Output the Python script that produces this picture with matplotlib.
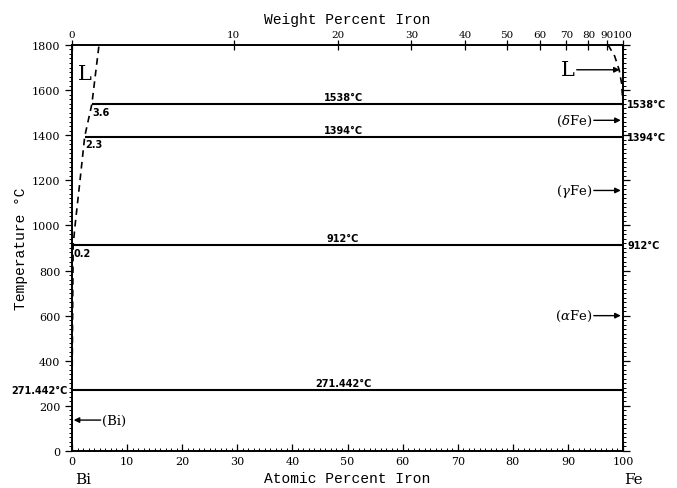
import numpy as np
import matplotlib
matplotlib.use("Agg")
import matplotlib.pyplot as plt
from matplotlib.ticker import MultipleLocator

# invariant lines (at.% Fe start, temperature)
iso_temps = [1538, 1394, 912, 271.442]
iso_start = [3.6, 2.3, 0.2, 0.0]
iso_texts = ["1538°C", "1394°C", "912°C", "271.442°C"]
start_texts = ["3.6", "2.3", "0.2", ""]
right_texts = ["1538°C", "1394°C", "912°C", ""]

# liquidus (dashed) on both sides
liq_left_x = [0.0, 0.2, 0.55, 1.45, 2.3, 3.6, 4.25, 4.9]
liq_left_t = [271.442, 912, 1000, 1200, 1394, 1538, 1670, 1800]
liq_right_x = [97.3, 98.5, 99.3, 99.75, 100.0]
liq_right_t = [1800, 1750, 1690, 1630, 1538]

# pure-Fe phase arrows on the right, Bi on the left
fe_phases = [r"($\delta$Fe)", r"($\gamma$Fe)", r"($\alpha$Fe)"]
fe_phase_t = [1466, 1155, 600]

wt_ticks = [0, 10, 20, 30, 40, 50, 60, 70, 80, 90, 100]

M_FE, M_BI = 55.845, 208.98


def wt_to_at(w):
    w = np.asarray(w, dtype=float)
    nfe = w / M_FE
    nbi = (100 - w) / M_BI
    return 100 * nfe / (nfe + nbi)


plt.rcParams['mathtext.fontset'] = 'dejavuserif'
serif = 'DejaVu Serif'
mono = 'Liberation Mono'

fig = plt.figure(figsize=(6.77, 4.89), dpi=100)
ax = fig.add_axes([0.1064, 0.0757, 0.8138, 0.8303])
ax.set_xlim(0, 100)
ax.set_ylim(0, 1800)

for sp in ax.spines.values():
    sp.set_linewidth(1.2)

ax.xaxis.set_major_locator(MultipleLocator(10))
ax.xaxis.set_minor_locator(MultipleLocator(1))
ax.yaxis.set_major_locator(MultipleLocator(200))
ax.yaxis.set_minor_locator(MultipleLocator(20))
ax.tick_params(axis='x', which='both', direction='in', bottom=True, top=True)
ax.tick_params(axis='x', which='major', top=False)
ax.tick_params(axis='y', which='both', direction='out', left=True, right=True)
ax.tick_params(which='major', length=5, width=0.9, labelsize=8)
ax.tick_params(which='minor', length=2.5, width=0.7)
for lab in ax.get_xticklabels() + ax.get_yticklabels():
    lab.set_fontfamily(serif)

# top axis in weight percent
axt = ax.twiny()
axt.set_xlim(0, 100)
axt.set_xticks(wt_to_at(wt_ticks))
axt.set_xticklabels([str(w) for w in wt_ticks], fontfamily=serif, fontsize=7.5)
axt.tick_params(axis='x', which='major', direction='inout', length=7,
                width=0.9, pad=1)
for sp in axt.spines.values():
    sp.set_linewidth(1.2)

# invariant lines and labels
for t, x0, txt, st, rt in zip(iso_temps, iso_start, iso_texts, start_texts, right_texts):
    ax.plot([x0, 100], [t, t], color='black', lw=1.5, solid_capstyle='butt')
    ax.text(49.2, t + 8, txt, ha='center', va='bottom', fontsize=7,
            fontweight='bold', family='DejaVu Sans')
    if st:
        ax.text(x0 + 0.1, t - 12, st, ha='left', va='top', fontsize=7,
                fontweight='bold', family='DejaVu Sans')
    if rt:
        ax.text(100.8, t, rt, ha='left', va='center', fontsize=7,
                fontweight='bold', family='DejaVu Sans', clip_on=False)

ax.text(-0.8, 271.442, "271.442°C", ha='right', va='center', fontsize=7,
        fontweight='bold', family='DejaVu Sans', clip_on=False)

# liquidus
ax.plot(liq_left_x, liq_left_t, color='black', lw=1.2, ls=(0, (4, 3)))
ax.plot(liq_right_x, liq_right_t, color='black', lw=1.2, ls=(0, (4, 3)))

# phase labels
ax.text(1.0, 1675, "L", fontsize=15, family=serif, ha='left', va='center')
ax.text(90.0, 1690, "L", fontsize=15, family=serif, ha='center', va='center')
ax.annotate("", xy=(99.4, 1690), xytext=(91.6, 1690),
            arrowprops=dict(arrowstyle='-|>', color='black', lw=1.0,
                            mutation_scale=8, shrinkA=0, shrinkB=0))

for name, t in zip(fe_phases, fe_phase_t):
    ax.text(94.5, t, name, fontsize=9.5, family=serif, ha='right', va='center')
    ax.annotate("", xy=(99.6, t), xytext=(94.7, t),
                arrowprops=dict(arrowstyle='-|>', color='black', lw=1.0,
                                mutation_scale=8, shrinkA=0, shrinkB=0))

ax.text(5.4, 137, "(Bi)", fontsize=9.5, family=serif, ha='left', va='center')
ax.annotate("", xy=(0.3, 137), xytext=(5.2, 137),
            arrowprops=dict(arrowstyle='-|>', color='black', lw=1.0,
                            mutation_scale=8, shrinkA=0, shrinkB=0))

# axis titles
ax.set_xlabel("Atomic Percent Iron", fontsize=10.5, family=mono, labelpad=4)
axt.set_xlabel("Weight Percent Iron", fontsize=10.5, family=mono, labelpad=5)
ax.set_ylabel("Temperature °C", fontsize=10.5, family=mono)
ax.yaxis.set_label_coords(-0.08, 0.5)
fig.text(83 / 677, 1 - 480 / 489, "Bi", fontsize=11, family=serif,
         ha='center', va='center')
fig.text(633 / 677, 1 - 480 / 489, "Fe", fontsize=11, family=serif,
         ha='center', va='center')

fig.savefig("out.png", dpi=100)
